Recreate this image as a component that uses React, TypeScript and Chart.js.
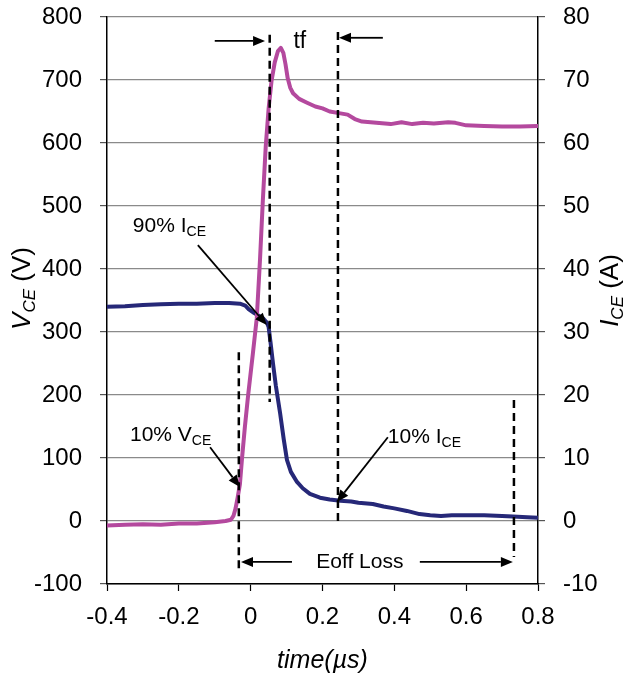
import React, { useEffect, useRef } from "react";
import { Chart, registerables } from "chart.js";

Chart.register(...registerables);

// ---- Data ----
const xTickLabels = ["-0.4", "-0.2", "0", "0.2", "0.4", "0.6", "0.8"];
const leftTicks = [-100, 0, 100, 200, 300, 400, 500, 600, 700, 800];
const rightTicks = [-10, 0, 10, 20, 30, 40, 50, 60, 70, 80];

// V_CE trace (time µs, volts)
const vceTime = [-0.4, -0.35, -0.3, -0.25, -0.2, -0.15, -0.1, -0.07, -0.055, -0.048, -0.042, -0.036, -0.03, -0.024, -0.016, -0.007, 0.006, 0.017, 0.026, 0.034, 0.042, 0.05, 0.058, 0.067, 0.076, 0.084, 0.091, 0.097, 0.103, 0.11, 0.118, 0.135, 0.157, 0.18, 0.2, 0.22, 0.25, 0.27, 0.29, 0.31, 0.35, 0.39, 0.42, 0.45, 0.48, 0.51, 0.55, 0.57, 0.6, 0.65, 0.7, 0.75, 0.8];
const vceValues = [-7, -6, -5, -6, -4, -4, -2, 0, 2, 8, 20, 38, 58, 100, 150, 200, 265, 322, 415, 510, 595, 655, 698, 728, 746, 751, 743, 725, 703, 688, 679, 670, 664, 658, 655, 650, 647, 645, 638, 634, 632, 630, 633, 630, 632, 631, 633, 632, 628, 627, 626, 626, 627];

// I_CE trace (time µs, amps)
const iceTime = [-0.4, -0.35, -0.3, -0.25, -0.2, -0.15, -0.1, -0.06, -0.03, -0.015, -0.005, 0.01, 0.025, 0.034, 0.045, 0.05, 0.055, 0.062, 0.07, 0.082, 0.092, 0.101, 0.112, 0.129, 0.145, 0.165, 0.193, 0.22, 0.25, 0.28, 0.3, 0.34, 0.37, 0.4, 0.435, 0.47, 0.5, 0.53, 0.56, 0.6, 0.65, 0.7, 0.73, 0.77, 0.8];
const iceValues = [34.0, 34.1, 34.3, 34.4, 34.5, 34.5, 34.6, 34.6, 34.5, 34.2, 33.6, 33.0, 32.5, 32.2, 31.5, 30.8, 28.5, 25.1, 21.5, 17.1, 13.0, 9.7, 7.8, 6.2, 5.2, 4.3, 3.7, 3.4, 3.2, 3.1, 2.9, 2.7, 2.3, 2.0, 1.6, 1.1, 0.9, 0.8, 0.9, 0.9, 0.9, 0.8, 0.7, 0.6, 0.5];

// Dashed marker lines (time, top V, bottom V)
const markerTimes = [-0.033, 0.053, 0.243, 0.733];
const markerTops = [268, 772, 776, 192];
const markerBottoms = [-83, 189, -3, -57];

// Annotation arrows [t, v] start and tip
const arrowFrom = [[-0.1, 762], [0.368, 767], [-0.147, 438], [-0.113, 117], [0.382, 133], [0.115, -65], [0.471, -65]];
const arrowTo = [[0.040, 762], [0.246, 767], [0.045, 311], [-0.030, 54], [0.240, 30], [-0.027, -65], [0.730, -65]];

// Annotation labels
const labelMain = ["tf", "90% I", "10% V", "10% I", "Eoff Loss"];
const labelSub = ["", "CE", "CE", "CE", ""];
const labelPos = [[0.137, 751], [-0.328, 459], [-0.336, 127], [0.382, 124], [0.304, -75]];
const labelAlign = ["center", "left", "left", "left", "center"];

const FAMILY = "'Liberation Sans', Arial, Helvetica, sans-serif";
const PINK = "#B4499E";
const NAVY = "#262878";

type Run = { t: string; size: number; italic?: boolean; dy?: number };

function drawRuns(ctx: CanvasRenderingContext2D, runs: Run[], x: number, y: number, align: string) {
  const widths = runs.map((r) => {
    ctx.font = `${r.italic ? "italic " : ""}${r.size}px ${FAMILY}`;
    return ctx.measureText(r.t).width;
  });
  const total = widths.reduce((a, b) => a + b, 0);
  let cx = align === "center" ? x - total / 2 : x;
  runs.forEach((r, i) => {
    ctx.font = `${r.italic ? "italic " : ""}${r.size}px ${FAMILY}`;
    ctx.fillText(r.t, cx, y + (r.dy || 0));
    cx += widths[i];
  });
}

function drawArrow(ctx: CanvasRenderingContext2D, x1: number, y1: number, x2: number, y2: number) {
  const ang = Math.atan2(y2 - y1, x2 - x1);
  const len = 12;
  const hw = 5;
  const bx = x2 - len * Math.cos(ang);
  const by = y2 - len * Math.sin(ang);
  ctx.beginPath();
  ctx.moveTo(x1, y1);
  ctx.lineTo(bx, by);
  ctx.stroke();
  ctx.beginPath();
  ctx.moveTo(x2, y2);
  ctx.lineTo(bx + hw * Math.sin(ang), by - hw * Math.cos(ang));
  ctx.lineTo(bx - hw * Math.sin(ang), by + hw * Math.cos(ang));
  ctx.closePath();
  ctx.fill();
}

const annotationPlugin = {
  id: "annotations",
  afterDatasetsDraw(chart: any) {
    const ctx: CanvasRenderingContext2D = chart.ctx;
    const xs = chart.scales.x;
    const ys = chart.scales.y;
    const area = chart.chartArea;
    ctx.save();
    ctx.fillStyle = "#000";
    ctx.strokeStyle = "#000";
    ctx.lineWidth = 1.8;
    arrowFrom.forEach((f, i) => {
      const t = arrowTo[i];
      drawArrow(ctx, xs.getPixelForValue(f[0]), ys.getPixelForValue(f[1]), xs.getPixelForValue(t[0]), ys.getPixelForValue(t[1]));
    });
    ctx.textBaseline = "alphabetic";
    labelMain.forEach((m, i) => {
      const size = i === 0 ? 23 : 21;
      const runs: Run[] = [{ t: m, size }];
      if (labelSub[i]) runs.push({ t: labelSub[i], size: 14, dy: 4 });
      drawRuns(ctx, runs, xs.getPixelForValue(labelPos[i][0]), ys.getPixelForValue(labelPos[i][1]), labelAlign[i]);
    });

    // axis titles
    const midY = (area.top + area.bottom) / 2;
    ctx.save();
    ctx.translate(area.left - 77, midY - 12);
    ctx.rotate(-Math.PI / 2);
    drawRuns(ctx, [
      { t: "V", size: 26, italic: true },
      { t: "CE", size: 17, italic: true, dy: 5 },
      { t: " (V)", size: 26 },
    ], 0, 0, "center");
    ctx.restore();
    ctx.save();
    ctx.translate(area.right + 80, midY - 10);
    ctx.rotate(-Math.PI / 2);
    drawRuns(ctx, [
      { t: "I", size: 26, italic: true },
      { t: "CE", size: 17, italic: true, dy: 5 },
      { t: " (A)", size: 26 },
    ], 0, 0, "center");
    ctx.restore();
    drawRuns(ctx, [{ t: "time(µs)", size: 25, italic: true }], (area.left + area.right) / 2, area.bottom + 84, "center");
    ctx.restore();
  },
};

export default function App() {
  const ref = useRef<HTMLCanvasElement>(null);
  useEffect(() => {
    if (!ref.current) return;
    const markerSets = markerTimes.map((t, i) => ({
      type: "line" as const,
      data: [{ x: t, y: markerTops[i] }, { x: t, y: markerBottoms[i] }],
      borderColor: "#000",
      borderWidth: 2.5,
      borderDash: [8, 5],
      pointRadius: 0,
      yAxisID: "y",
    }));
    const chart = new Chart(ref.current, {
      type: "line",
      data: {
        datasets: [
          ...markerSets,
          {
            label: "VCE",
            data: vceTime.map((t, i) => ({ x: t, y: vceValues[i] })),
            borderColor: PINK,
            borderWidth: 4,
            pointRadius: 0,
            borderJoinStyle: "round",
            borderCapStyle: "round",
            yAxisID: "y",
          },
          {
            label: "ICE",
            data: iceTime.map((t, i) => ({ x: t, y: iceValues[i] })),
            borderColor: NAVY,
            borderWidth: 4,
            pointRadius: 0,
            borderJoinStyle: "round",
            borderCapStyle: "round",
            yAxisID: "y2",
          },
        ],
      },
      options: {
        responsive: false,
        animation: false,
        devicePixelRatio: 1,
        layout: { padding: { top: 17, left: 0, right: 0, bottom: 0 } },
        plugins: { legend: { display: false }, tooltip: { enabled: false } },
        scales: {
          x: {
            type: "linear",
            position: "bottom",
            min: -0.4,
            max: 0.8,
            afterBuildTicks: (s: any) => {
              s.ticks = xTickLabels.map((l) => ({ value: parseFloat(l) }));
            },
            ticks: {
              callback: (_v: any, i: number) => xTickLabels[i],
              font: { size: 24, family: FAMILY },
              color: "#000",
              padding: 12,
              maxRotation: 0,
              autoSkip: false,
            },
            grid: { drawOnChartArea: false, drawTicks: true, tickLength: 7, tickColor: "#000", tickWidth: 1.2 },
            border: { color: "#000", width: 1.5 },
            afterFit: (s: any) => {
              s.height = 98;
              s.paddingLeft = 0;
              s.paddingRight = 0;
              s.paddingTop = 0;
              s.paddingBottom = 0;
            },
          },
          y: {
            position: "left",
            min: -100,
            max: 800,
            afterBuildTicks: (s: any) => {
              s.ticks = leftTicks.map((v) => ({ value: v }));
            },
            ticks: { font: { size: 24, family: FAMILY }, color: "#000", padding: 18 },
            grid: { color: "#8a8a8a", lineWidth: 1.2, drawTicks: true, tickLength: 7, tickColor: "#555" },
            border: { color: "#000", width: 1.5 },
            afterFit: (s: any) => {
              s.width = 107;
              s.paddingTop = 0;
              s.paddingBottom = 0;
              s.paddingLeft = 0;
              s.paddingRight = 0;
            },
          },
          y2: {
            position: "right",
            min: -10,
            max: 80,
            afterBuildTicks: (s: any) => {
              s.ticks = rightTicks.map((v) => ({ value: v }));
            },
            ticks: { font: { size: 24, family: FAMILY }, color: "#000", padding: 18 },
            grid: { drawOnChartArea: false, drawTicks: true, tickLength: 7, tickColor: "#555", lineWidth: 1.2 },
            border: { color: "#000", width: 1.5 },
            afterFit: (s: any) => {
              s.width = 97;
              s.paddingTop = 0;
              s.paddingBottom = 0;
              s.paddingLeft = 0;
              s.paddingRight = 0;
            },
          },
        },
      } as any,
      plugins: [annotationPlugin],
    });
    return () => chart.destroy();
  }, []);
  return (
    <div style={{ position: "fixed", left: 0, top: 0, width: 635, height: 682, background: "#fff" }}>
      <canvas ref={ref} width={635} height={682} style={{ width: 635, height: 682, display: "block" }} />
    </div>
  );
}
